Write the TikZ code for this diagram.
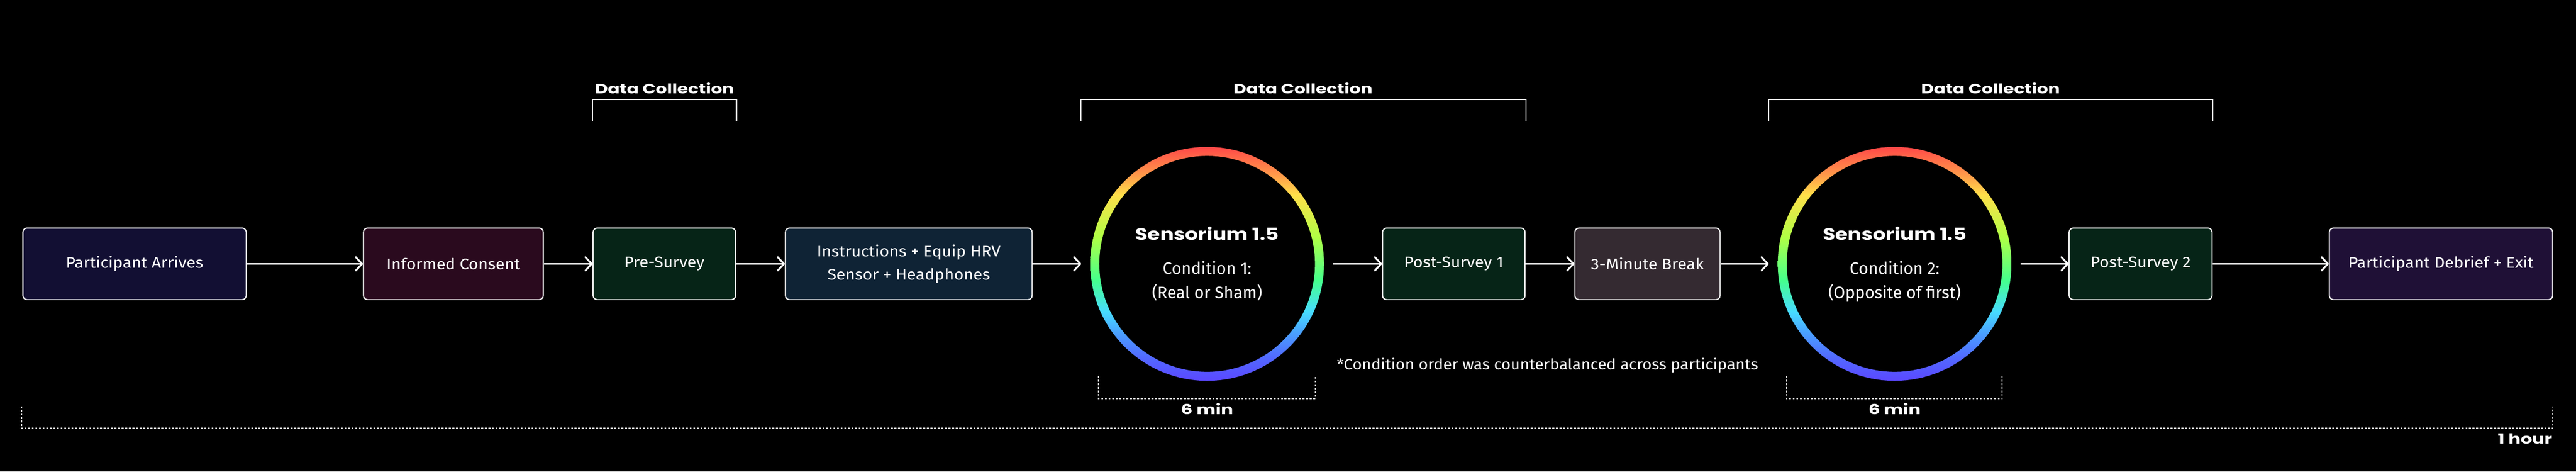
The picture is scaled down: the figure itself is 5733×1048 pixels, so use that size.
\documentclass[tikz,border=0pt]{standalone}
\usepackage{fontspec}
\setmainfont{Fira Sans}
\newfontfamily\bodyw{Fira Sans}[FakeStretch=1.08]
\newfontfamily\headfont{Poppins}[FakeStretch=1.3]
\newfontfamily\headfontb{Poppins}[FakeStretch=1.22]
\usetikzlibrary{arrows.meta}
\definecolor{fArr}{HTML}{120F33}
\definecolor{fCons}{HTML}{2A0A1E}
\definecolor{fSurv}{HTML}{062417}
\definecolor{fInst}{HTML}{0F2335}
\definecolor{fBreak}{HTML}{342A31}
\definecolor{fExit}{HTML}{1F1036}
\definecolor{rbA}{HTML}{5A48FF}
\definecolor{rbB}{HTML}{5268FF}
\definecolor{rbC}{HTML}{4AA0FF}
\definecolor{rbD}{HTML}{47DCFF}
\definecolor{rbE}{HTML}{45FF8C}
\definecolor{rbF}{HTML}{B0FF45}
\definecolor{rbG}{HTML}{FFE04A}
\definecolor{rbH}{HTML}{FF9A4A}
\definecolor{rbI}{HTML}{FF4848}
\pgfdeclareverticalshading{rainbow}{100bp}{color(0bp)=(rbA); color(25bp)=(rbA); color(29.9bp)=(rbB); color(35.2bp)=(rbC); color(39.8bp)=(rbD); color(46.5bp)=(rbE); color(55.7bp)=(rbF); color(64.7bp)=(rbG); color(69bp)=(rbH); color(75bp)=(rbI); color(100bp)=(rbI)}
\tikzset{
  stepbox/.style={draw=white, line width=2.5pt, rounded corners=9pt, minimum height=159pt, inner sep=0pt, text=white, align=center, font=\bodyw\fontsize{34}{52}\selectfont},
  ringnode/.style={circle, minimum size=560pt, inner sep=0pt},
  arr/.style={white, line width=4pt, -{Straight Barb[length=14pt, width=30pt, line width=4pt, round]}},
  bracket/.style={white, line width=2.5pt},
  dotbracket/.style={white, line width=2.2pt, dash pattern=on 4pt off 4pt},
  dclabel/.style={text=white, inner sep=0pt, anchor=base, font=\headfont\bfseries\fontsize{30}{36}\selectfont},
  boldlabel/.style={text=white, inner sep=0pt, font=\headfont\bfseries\fontsize{31}{36}\selectfont},
  headtext/.style={text=white, inner sep=0pt, anchor=base, font=\headfontb\bfseries\fontsize{37}{44}\selectfont},
  condtext/.style={text=white, inner sep=0pt, anchor=base, font=\fontsize{37}{44}\selectfont},
  notetext/.style={text=white, inner sep=0pt, anchor=base west, font=\bodyw\fontsize{33}{40}\selectfont}
}
\begin{document}
\begin{tikzpicture}[x=1pt, y=-1pt]
\fill[black] (0,0) rectangle (5733,1048);
\useasboundingbox (0,0) rectangle (5733,1048);

% process boxes
\node[stepbox, fill=fArr, minimum width=497pt] (b1) at (299.5,586.5) {Participant Arrives};
\node[stepbox, fill=fCons, minimum width=400pt] (b2) at (1009,586.5) {Informed Consent};
\node[stepbox, fill=fSurv, minimum width=317pt] (b3) at (1478.5,586.5) {Pre-Survey};
\node[stepbox, fill=fInst, minimum width=549pt] (b4) at (2022.5,586.5) {Instructions + Equip HRV\\Sensor + Headphones};
\node[ringnode] (s1) at (2686.5,586.5) {};
\node[stepbox, fill=fSurv, minimum width=317pt] (b6) at (3235.5,586.5) {Post-Survey 1};
\node[stepbox, fill=fBreak, minimum width=323pt] (b7) at (3666.5,586.5) {3-Minute Break};
\node[ringnode] (s2) at (4216.5,586.5) {};
\node[stepbox, fill=fSurv, minimum width=318pt] (b9) at (4764,586.5) {Post-Survey 2};
\node[stepbox, fill=fExit, minimum width=497pt] (b10) at (5432.5,586.5) {Participant Debrief + Exit};

% rainbow rings
\shade[shading=rainbow, even odd rule] (2686.5,586.5) circle[radius=260] (2686.5,586.5) circle[radius=240];
\shade[shading=rainbow, even odd rule] (4216.5,586.5) circle[radius=260] (4216.5,586.5) circle[radius=240];

% ring texts
\node[headtext] (h1) at (2686.5,534) {Sensorium 1.5};
\node[condtext] (c1a) at (2686.5,609) {Condition 1:};
\node[condtext] (c1b) at (2686.5,663) {(Real or Sham)};
\node[headtext] (h2) at (4216.5,534) {Sensorium 1.5};
\node[condtext] (c2a) at (4216.5,609) {Condition 2:};
\node[condtext] (c2b) at (4216.5,663) {(Opposite of first)};

% connectors
\draw[arr] (b1) -- (b2);
\draw[arr] (b2) -- (b3);
\draw[arr] (b3) -- (b4);
\draw[arr] (b4) -- (s1);
\draw[arr] (s1) -- (b6);
\draw[arr] (b6) -- (b7);
\draw[arr] (b7) -- (s2);
\draw[arr] (s2) -- (b9);
\draw[arr] (b9) -- (b10);

% data collection brackets
\draw[bracket] (1319,270) -- (1319,221) -- (1639,221) -- (1639,270);
\node[dclabel] (dc1) at (1479,208) {Data Collection};
\draw[bracket] (2405,270) -- (2405,221) -- (3396,221) -- (3396,270);
\node[dclabel] (dc2) at (2900,208) {Data Collection};
\draw[bracket] (3936,270) -- (3936,221) -- (4925,221) -- (4925,270);
\node[dclabel] (dc3) at (4430,208) {Data Collection};

% 6 min brackets
\draw[dotbracket] (2445,836) -- (2445,886) -- (2927,886) -- (2927,836);
\node[boldlabel, anchor=base] (m1) at (2686.5,921) {6 min};
\draw[dotbracket] (3976,836) -- (3976,886) -- (4456,886) -- (4456,836);
\node[boldlabel, anchor=base] (m2) at (4216.5,921) {6 min};

% 1 hour bracket
\draw[dotbracket] (48,903) -- (48,952) -- (5681,952) -- (5681,903);
\node[boldlabel, anchor=base east] (hr) at (5680,987) {1 hour};

% footnote
\node[notetext] (fn) at (2975,822) {*Condition order was counterbalanced across participants};
\end{tikzpicture}
\end{document}
